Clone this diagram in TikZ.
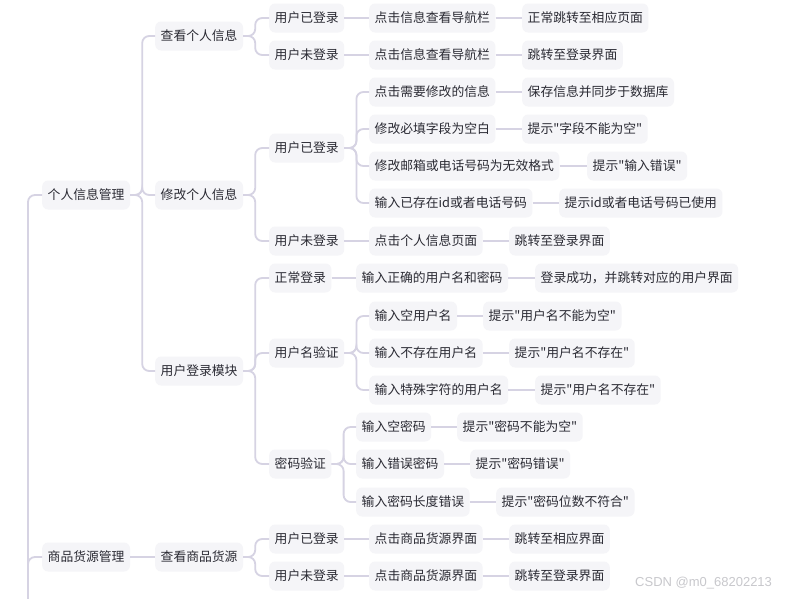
\documentclass[tikz,border=0pt]{standalone}
\usepackage{fontspec}
\newfontfamily\cjk{Noto Sans CJK SC}
\definecolor{boxfill}{HTML}{F5F5F8}
\definecolor{linkc}{HTML}{D6D3E3}
\definecolor{txtc}{HTML}{2A2A33}
\definecolor{wmc}{HTML}{C8C8CC}
\tikzset{
  mm/.style={anchor=west, fill=boxfill, rounded corners=6pt, inner xsep=5.5pt, inner ysep=0pt,
    minimum height=29pt, text=txtc, font=\cjk\fontsize{12.8pt}{14pt}\selectfont},
  link/.style={draw=linkc, line width=1.8pt, rounded corners=7pt},
}
\newcommand{\br}[2]{\draw[link] (#1.east) -- ++(12pt,0) |- (#2.west);}
\newcommand{\st}[2]{\draw[link] (#1.east) -- (#2.west);}
\begin{document}
\begin{tikzpicture}[x=1pt,y=-1pt]
\clip (0,0) rectangle (809,598);
\fill[white] (0,0) rectangle (809,598);
% level 1
\node[mm] (a1) at (42,195) {个人信息管理};
\node[mm] (a2) at (42,557) {商品货源管理};
% level 2
\node[mm] (b1) at (155,36) {查看个人信息};
\node[mm] (b2) at (155,195) {修改个人信息};
\node[mm] (b3) at (155,371) {用户登录模块};
\node[mm] (b4) at (155,557) {查看商品货源};
% level 3
\node[mm] (c1) at (269,18) {用户已登录};
\node[mm] (c2) at (269,55) {用户未登录};
\node[mm] (c3) at (269,148) {用户已登录};
\node[mm] (c4) at (269,241) {用户未登录};
\node[mm] (c5) at (269,278) {正常登录};
\node[mm] (c6) at (269,353) {用户名验证};
\node[mm] (c7) at (269,464) {密码验证};
\node[mm] (c8) at (269,539) {用户已登录};
\node[mm] (c9) at (269,576) {用户未登录};
% level 4
\node[mm] (d1) at (369,18) {点击信息查看导航栏};
\node[mm] (d2) at (369,55) {点击信息查看导航栏};
\node[mm] (d3) at (369,92) {点击需要修改的信息};
\node[mm] (d4) at (369,129) {修改必填字段为空白};
\node[mm] (d5) at (369,166) {修改邮箱或电话号码为无效格式};
\node[mm] (d6) at (369,203) {输入已存在id或者电话号码};
\node[mm] (d7) at (369,241) {点击个人信息页面};
\node[mm] (d8) at (356,278) {输入正确的用户名和密码};
\node[mm] (d9) at (369,316) {输入空用户名};
\node[mm] (d10) at (369,353) {输入不存在用户名};
\node[mm] (d11) at (369,390) {输入特殊字符的用户名};
\node[mm] (d12) at (356,427) {输入空密码};
\node[mm] (d13) at (356,464) {输入错误密码};
\node[mm] (d14) at (356,502) {输入密码长度错误};
\node[mm] (d15) at (369,539) {点击商品货源界面};
\node[mm] (d16) at (369,576) {点击商品货源界面};
% level 5
\node[mm] (e1) at (522,18) {正常跳转至相应页面};
\node[mm] (e2) at (522,55) {跳转至登录界面};
\node[mm] (e3) at (522,92) {保存信息并同步于数据库};
\node[mm] (e4) at (522,129) {提示"字段不能为空"};
\node[mm] (e5) at (587,166) {提示"输入错误"};
\node[mm] (e6) at (559,203) {提示id或者电话号码已使用};
\node[mm] (e7) at (509,241) {跳转至登录界面};
\node[mm] (e8) at (535,278) {登录成功，并跳转对应的用户界面};
\node[mm] (e9) at (483,316) {提示"用户名不能为空"};
\node[mm] (e10) at (509,353) {提示"用户名不存在"};
\node[mm] (e11) at (535,390) {提示"用户名不存在"};
\node[mm] (e12) at (457,427) {提示"密码不能为空"};
\node[mm] (e13) at (470,464) {提示"密码错误"};
\node[mm] (e14) at (496,502) {提示"密码位数不符合"};
\node[mm] (e15) at (509,539) {跳转至相应界面};
\node[mm] (e16) at (509,576) {跳转至登录界面};
% root (off page)
\coordinate (root) at (16,700);
\begin{scope}[on background layer/.try]
\draw[link] (root) -- ++(12pt,0) |- (a1.west);
\draw[link] (root) -- ++(12pt,0) |- (a2.west);
\br{a1}{b1}\br{a1}{b2}\br{a1}{b3}
\st{a2}{b4}
\br{b1}{c1}\br{b1}{c2}
\br{b2}{c3}\br{b2}{c4}
\br{b3}{c5}\br{b3}{c6}\br{b3}{c7}
\br{b4}{c8}\br{b4}{c9}
\st{c1}{d1}\st{c2}{d2}
\br{c3}{d3}\br{c3}{d4}\br{c3}{d5}\br{c3}{d6}
\st{c4}{d7}\st{c5}{d8}
\br{c6}{d9}\br{c6}{d10}\br{c6}{d11}
\br{c7}{d12}\br{c7}{d13}\br{c7}{d14}
\st{c8}{d15}\st{c9}{d16}
\st{d1}{e1}\st{d2}{e2}\st{d3}{e3}\st{d4}{e4}\st{d5}{e5}\st{d6}{e6}
\st{d7}{e7}\st{d8}{e8}\st{d9}{e9}\st{d10}{e10}\st{d11}{e11}
\st{d12}{e12}\st{d13}{e13}\st{d14}{e14}\st{d15}{e15}\st{d16}{e16}
\end{scope}
\node[anchor=west, text=wmc, font=\fontspec{Liberation Sans}\fontsize{13pt}{14pt}\selectfont, inner sep=0pt] (wm) at (635,583) {CSDN @m0\_68202213};
\end{tikzpicture}
\end{document}
